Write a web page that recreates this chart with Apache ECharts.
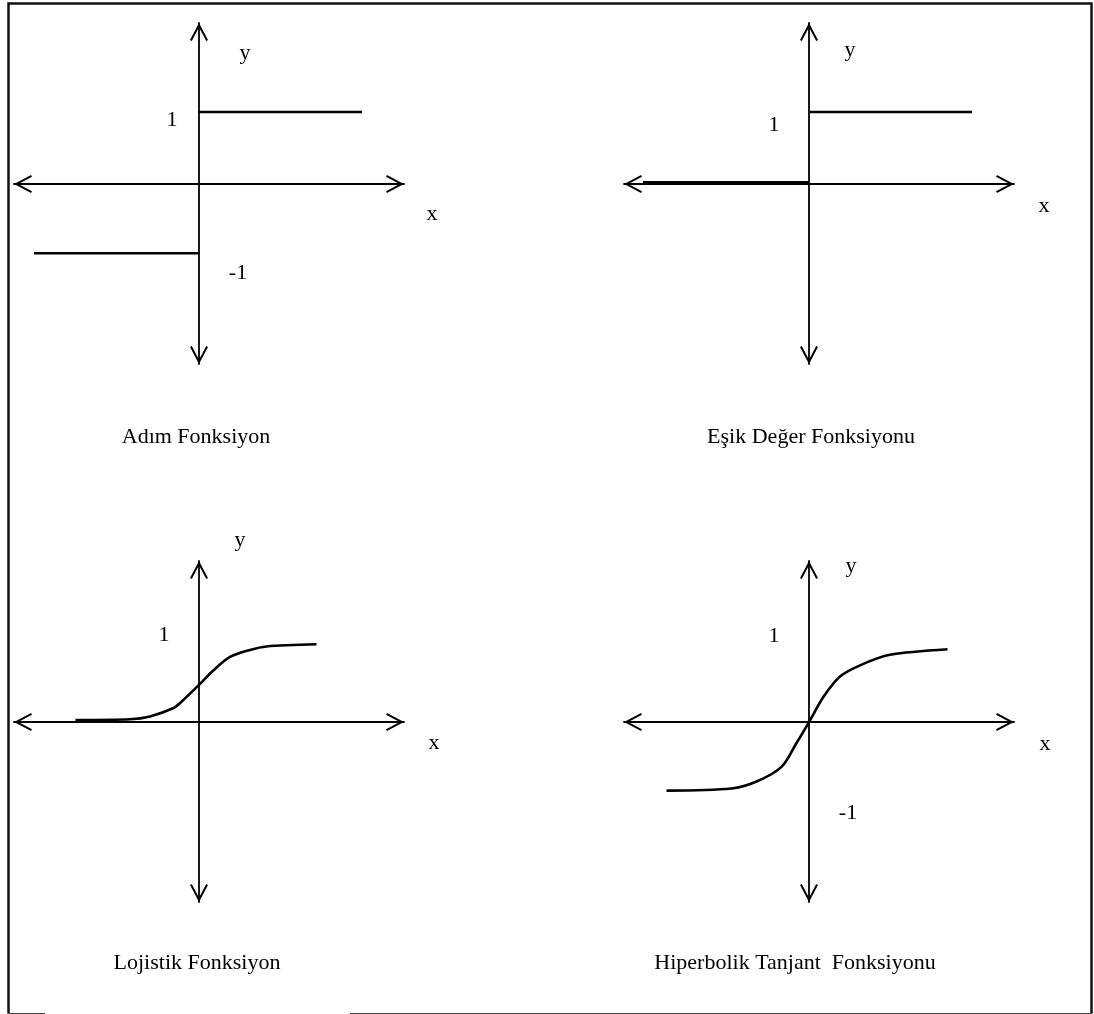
<!DOCTYPE html>
<html>
<head>
<meta charset="utf-8">
<title>Aktivasyon Fonksiyonları</title>
<script src="https://cdn.jsdelivr.net/npm/echarts@6/dist/echarts.min.js"></script>
<style>
  html, body { margin: 0; padding: 0; background: #fff; }
  #chart { width: 1094px; height: 1014px; }
</style>
</head>
<body>
<div id="chart"></div>
<script>
// panel titles
const titles = ['Adım Fonksiyon', 'Eşik Değer Fonksiyonu', 'Lojistik Fonksiyon', 'Hiperbolik Tanjant  Fonksiyonu'];

// step function (Adım)
const adimUpper = [[0, 1.03], [3.26, 1.03]];
const adimLower = [[-3.3, -0.99], [0, -0.99]];

// threshold function (Eşik Değer)
const esikUpper = [[0, 1.03], [3.26, 1.03]];
const esikLower = [[-3.32, 0.02], [0, 0.02]];

// logistic curve
const lojistik = [
  [-2.47, 0.03], [-1.38, 0.04], [-0.98, 0.08], [-0.51, 0.2], [-0.35, 0.29],
  [0, 0.53], [0.29, 0.74], [0.62, 0.93], [1.02, 1.03], [1.35, 1.08], [2.35, 1.11]
];

// hyperbolic tangent curve
const tanjant = [
  [-2.85, -0.98], [-1.55, -0.95], [-1.05, -0.85], [-0.55, -0.64], [-0.25, -0.3],
  [0, 0], [0.29, 0.36], [0.62, 0.65], [1.02, 0.81], [1.62, 0.96], [2.77, 1.04]
];

// "1" / "-1" markers shown next to each y axis
const tickTexts = [['1', '-1'], ['1'], ['1'], ['1', '-1']];

// ---- layout ----
const grids = [
  { left: 14, top: 23 },
  { left: 624, top: 23 },
  { left: 14, top: 561 },
  { left: 624, top: 561 }
];
const gridW = 390, gridH = 341;
const xMin = -3.7, xMax = 4.1, yMin = -2.57, yMax = 2.3;

const FONT = '22px "Liberation Serif", "Times New Roman", serif';
// open arrow head, filled as a thin chevron
const chevron = 'path://M9,0 L18,17 L16.2,17.9 L9,4.3 L1.8,17.9 L0,17 Z';

const axisLine = {
  onZero: true,
  symbol: [chevron, chevron],
  symbolSize: [18, 18],
  symbolOffset: [9, -9],
  lineStyle: { color: '#000', width: 1.8 }
};

const makeAxis = (min, max, i) => ({
  type: 'value',
  gridIndex: i,
  min: min,
  max: max,
  axisLine: axisLine,
  axisTick: { show: false },
  axisLabel: { show: false },
  splitLine: { show: false }
});

const lineSeries = (data, i, width, smooth) => ({
  type: 'line',
  xAxisIndex: i,
  yAxisIndex: i,
  data: data,
  showSymbol: false,
  smooth: smooth || false,
  lineStyle: { color: '#000', width: width },
  itemStyle: { color: '#000' },
  silent: true
});

// text positions (pixels): titles, axis letters, y markers
const titlePos = [[196, 437.5], [811, 437], [197, 963.5], [795, 963.5]];
const yPos = [[245, 53.5], [850, 50.5], [240, 540.5], [851, 566.5]];
const xPos = [[432, 214], [1044, 206.5], [434, 743.5], [1045, 744.5]];
const tickPos = [[[172, 120.5], [238, 273.5]], [[774, 125.5]], [[164, 635.5]], [[774, 636.5], [848, 813.5]]];

const txt = (text, p) => ({
  type: 'text',
  x: p[0],
  y: p[1],
  silent: true,
  style: { text: text, font: FONT, fill: '#000', align: 'center', verticalAlign: 'middle' }
});

const graphic = [
  // frame (the bottom edge has a gap under the third panel)
  { type: 'polyline', silent: true, shape: { points: [[8.5, 1013.5], [8.5, 3.5], [1091.5, 3.5], [1091.5, 1013.5]] },
    style: { stroke: '#111', lineWidth: 2.5, fill: null } },
  { type: 'polyline', silent: true, shape: { points: [[8, 1013.5], [45, 1013.5]] }, style: { stroke: '#444', lineWidth: 1.2 } },
  { type: 'polyline', silent: true, shape: { points: [[350, 1013.5], [1092, 1013.5]] }, style: { stroke: '#444', lineWidth: 1.2 } }
];
titles.forEach((t, i) => graphic.push(txt(t, titlePos[i])));
yPos.forEach(p => graphic.push(txt('y', p)));
xPos.forEach(p => graphic.push(txt('x', p)));
tickTexts.forEach((arr, i) => arr.forEach((t, j) => graphic.push(txt(t, tickPos[i][j]))));

const chart = echarts.init(document.getElementById('chart'), null, { renderer: 'canvas' });
chart.setOption({
  backgroundColor: '#fff',
  animation: false,
  grid: grids.map(g => ({ left: g.left, top: g.top, width: gridW, height: gridH, outerBoundsMode: 'none', containLabel: false })),
  xAxis: grids.map((g, i) => makeAxis(xMin, xMax, i)),
  yAxis: grids.map((g, i) => makeAxis(yMin, yMax, i)),
  series: [
    lineSeries(adimUpper, 0, 2.5),
    lineSeries(adimLower, 0, 2.5),
    lineSeries(esikUpper, 1, 2.5),
    lineSeries(esikLower, 1, 3.2),
    lineSeries(lojistik, 2, 2.6, 0.3),
    lineSeries(tanjant, 3, 2.6, 0.3)
  ],
  graphic: graphic
});
</script>
</body>
</html>
